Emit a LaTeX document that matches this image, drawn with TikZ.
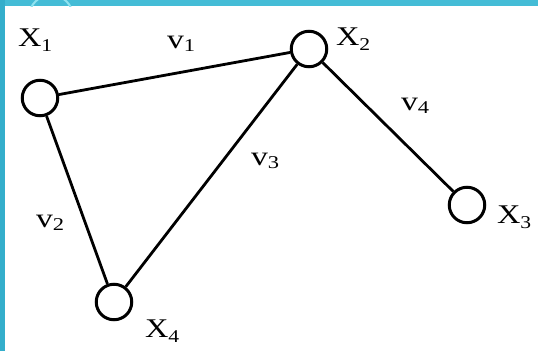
\documentclass[tikz,border=0pt]{standalone}
\usepackage{fontspec}
\setmainfont{Liberation Serif}
\usepackage{graphicx}
\definecolor{bandtop}{HTML}{44BCD6}
\definecolor{bandleft}{HTML}{34AECB}
\definecolor{ringc}{HTML}{8FE3F0}
\newcommand{\mylabX}[1]{\scalebox{1.2}[1]{X\raisebox{-5pt}{\fontsize{18}{18}\selectfont #1}}}
\newcommand{\mylabV}[1]{\scalebox{1.25}[1]{v\raisebox{-3pt}{\fontsize{18}{18}\selectfont #1}}}
\begin{document}
\begin{tikzpicture}[x=1pt,y=-1pt,
  vert/.style={circle,draw=black,line width=3pt,minimum size=35.5pt,inner sep=0pt},
  edgeline/.style={line width=2.8pt,draw=black},
  lbl/.style={anchor=base west,inner sep=0pt,outer sep=0pt,font=\fontsize{27}{27}\selectfont}]
\useasboundingbox (0,0) rectangle (538,351);
\fill[white] (0,0) rectangle (538,351);
% frame bands
\fill[bandtop] (0,0) rectangle (538,6);
\fill[bandleft] (0,0) rectangle (5,351);
\begin{scope}
  \clip (5,0) rectangle (538,6);
  \draw[ringc,line width=2pt] (51,17) circle[radius=22];
\end{scope}
% vertices
\node[vert] (x1) at (40,98) {};
\node[vert] (x2) at (309,49) {};
\node[vert] (x3) at (467,205) {};
\node[vert] (x4) at (114,302) {};
% edges
\draw[edgeline] (x1) -- (x2);
\draw[edgeline] (x1) -- (x4);
\draw[edgeline] (x2) -- (x4);
\draw[edgeline] (x2) -- (x3);
% labels
\node[lbl] (lx1) at (18,46) {\mylabX{1}};
\node[lbl] (lx2) at (336,45) {\mylabX{2}};
\node[lbl] (lx3) at (497,223) {\mylabX{3}};
\node[lbl] (lx4) at (145,337) {\mylabX{4}};
\node[lbl] (lv1) at (167,48) {\mylabV{1}};
\node[lbl] (lv2) at (36,227) {\mylabV{2}};
\node[lbl] (lv3) at (251,165) {\mylabV{3}};
\node[lbl] (lv4) at (401,110) {\mylabV{4}};
\end{tikzpicture}
\end{document}
